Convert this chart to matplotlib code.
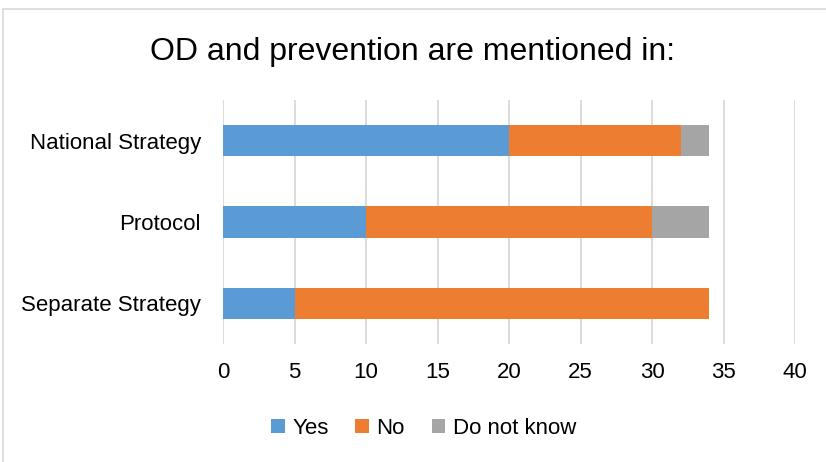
import matplotlib
matplotlib.use("Agg")
import matplotlib.pyplot as plt
from matplotlib.patches import Rectangle

categories = ["Separate Strategy", "Protocol", "National Strategy"]
series_names = ["Yes", "No", "Do not know"]
yes = [5, 10, 20]
no = [29, 20, 12]
dnk = [0, 4, 2]
colors = ["#5B9BD5", "#ED7D31", "#A5A5A5"]
xticks = [0, 5, 10, 15, 20, 25, 30, 35, 40]

plt.rcParams['font.family'] = ['Liberation Sans', 'DejaVu Sans']

fig = plt.figure(figsize=(8.26, 4.62), dpi=100)
ax = fig.add_axes([0.27, 0.255, 0.6925, 0.529])

left = [0] * len(categories)
for name, vals, c in zip(series_names, [yes, no, dnk], colors):
    ax.barh(categories, vals, left=left, height=0.39, color=c, label=name, zorder=3)
    left = [l + v for l, v in zip(left, vals)]

ax.set_xlim(0, 40)
ax.set_ylim(-0.5, 2.5)
ax.set_xticks(xticks)
ax.xaxis.grid(True, color="#D9D9D9", linewidth=1.3, zorder=0)
for s in ax.spines.values():
    s.set_visible(False)
ax.tick_params(axis='both', length=0, labelsize=16, colors="black")
ax.tick_params(axis='x', pad=13)
ax.tick_params(axis='y', pad=16)

fig.suptitle("OD and prevention are mentioned in:", y=0.92, fontsize=23)

leg = fig.legend(loc="center", bbox_to_anchor=(0.513, 0.073), ncol=3, frameon=False,
                 fontsize=16, handlelength=0.6, handleheight=0.6, handletextpad=0.35,
                 columnspacing=1.2)

fig.patches.append(Rectangle((3 / 826, -0.1), 1.2, 1 - 9 / 462 + 0.1, transform=fig.transFigure,
                             fill=False, edgecolor="#D9D9D9", linewidth=1.2))

fig.savefig("out.png", dpi=100)
